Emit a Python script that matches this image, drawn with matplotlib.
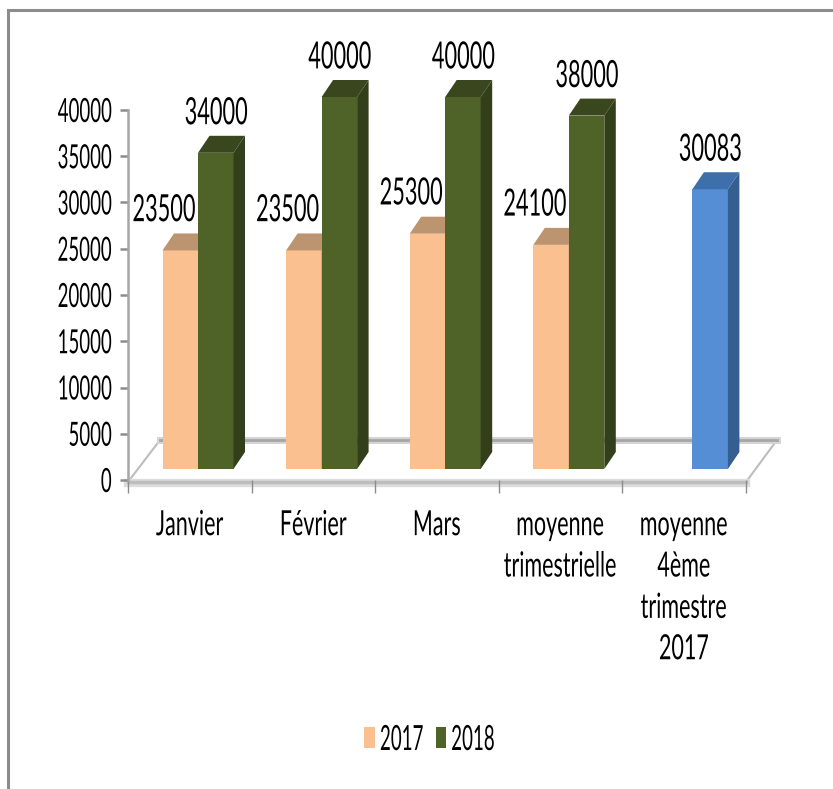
import numpy as np
import matplotlib
matplotlib.use('Agg')
import matplotlib.pyplot as plt
import matplotlib.patheffects as pe
from matplotlib.patches import Polygon
from matplotlib.transforms import Affine2D

plt.rcParams['font.family'] = ['Lato', 'DejaVu Sans']

categories = ['Janvier', 'Février', 'Mars', 'moyenne\ntrimestrielle', 'moyenne\n4ème\ntrimestre\n2017']
values_2017 = [23500, 23500, 25300, 24100, np.nan]
values_2018 = [34000, 40000, 40000, 38000, 30083]
y_ticks = [0, 5000, 10000, 15000, 20000, 25000, 30000, 35000, 40000]

W, H = 833, 789
fig = plt.figure(figsize=(W / 100, H / 100), dpi=100)


# the reference is squeezed sideways, no condensed font here so squeeze the glyph paths
class Squeeze(pe.AbstractPathEffect):
    def __init__(self, factor, anchor='center'):
        super().__init__()
        self.factor = factor
        self.anchor = anchor

    def draw_path(self, renderer, gc, tpath, affine, rgbFace=None):
        xs = affine.transform(tpath.vertices)[:, 0]
        if self.anchor == 'right':
            x0 = xs.max()
        elif self.anchor == 'left':
            x0 = xs.min()
        else:
            x0 = (xs.min() + xs.max()) / 2
        squeezed = affine + Affine2D().translate(-x0, 0).scale(self.factor, 1).translate(x0, 0)
        renderer.draw_path(gc, tpath, squeezed, rgbFace)


def box(left, top, right, bottom):
    return [left / W, 1 - bottom / H, (right - left) / W, (bottom - top) / H]


# decor layer in pixels: frame and chart floor
deco = fig.add_axes([0, 0, 1, 1], zorder=0)
deco.set_xlim(0, W)
deco.set_ylim(H, 0)
deco.axis('off')
deco.plot([8, 8, W], [H, 10, 10], color='#8c8c8c', lw=2.2, solid_joinstyle='miter')
deco.add_patch(Polygon([(128, 482), (160, 440), (777, 440), (746, 482)], closed=True,
                       facecolor='white', edgecolor='#bdbdbd', lw=1.5))
deco.plot([160, 777], [440, 440], color='#d4d4d4', lw=5)
deco.plot([160, 777], [440, 440], color='#a6a6a6', lw=2)
deco.plot([128, 746], [483, 483], color='#dcdcdc', lw=6)
deco.plot([128, 746], [482, 482], color='#bdbdbd', lw=2.5)

# axis layer
ax_axis = fig.add_axes(box(128, 110, 746, 480), zorder=1)
ax_axis.patch.set_alpha(0)
ax_axis.set_xlim(-0.5, 4.5)
ax_axis.set_ylim(0, 40000)
for side in ['top', 'right', 'bottom']:
    ax_axis.spines[side].set_visible(False)
ax_axis.spines['left'].set_color('#a6a6a6')
ax_axis.spines['left'].set_linewidth(1.8)
ax_axis.set_yticks(y_ticks)
ax_axis.tick_params(axis='y', length=6, width=1.8, color='#8c8c8c', labelsize=24, pad=5.5)
for lab in ax_axis.get_yticklabels():
    lab.set_path_effects([Squeeze(0.56, 'right')])
ax_axis.set_xticks(np.arange(-0.5, 5, 1))
ax_axis.set_xticklabels([])
ax_axis.tick_params(axis='x', which='major', length=9, width=1, color='#8c8c8c', pad=0)
ax_axis.set_xticks(range(len(categories)), minor=True)
ax_axis.set_xticklabels(categories, minor=True, fontsize=25, linespacing=1.36)
ax_axis.tick_params(axis='x', which='minor', length=0, pad=21)
for lab in ax_axis.get_xticklabels(minor=True):
    lab.set_path_effects([Squeeze(0.62)])

# bars layer, full figure, 0 value at y=469px
px_cat = 123.6
px_val = 0.0093
ax = fig.add_axes([0, 0, 1, 1], zorder=2)
ax.patch.set_alpha(0)
ax.set_xlim(-198 / px_cat, (W - 198) / px_cat)
ax.set_ylim((469 - H) / px_val, 469 / px_val)
ax.axis('off')

x = np.arange(len(categories))
bar_w = 35.5 / px_cat
dx = 11.5 / px_cat
dy = 17 / px_val


def bars_3d(xs, vals, front, side, top, label):
    bars = ax.bar(xs, vals, bar_w, align='edge', color=front, label=label)
    for i, (xi, v) in enumerate(zip(xs, vals)):
        if np.isnan(v):
            continue
        s = side[i] if isinstance(side, list) else side
        t = top[i] if isinstance(top, list) else top
        xr = xi + bar_w
        ax.add_patch(Polygon([(xr, 0), (xr + dx, dy), (xr + dx, v + dy), (xr, v)], facecolor=s, lw=0))
        ax.add_patch(Polygon([(xi, v), (xi + dx, v + dy), (xr + dx, v + dy), (xr, v)], facecolor=t, lw=0))
    return bars


b17 = bars_3d(x - bar_w, values_2017, '#fac090', '#a77f5e', '#bd9470', '2017')
colors_2018 = ['#4f6228'] * 4 + ['#558ed5']
sides_2018 = ['#333f1a'] * 4 + ['#355f91']
tops_2018 = ['#3a471e'] * 4 + ['#3d70ab']
b18 = bars_3d(x, values_2018, colors_2018, sides_2018, tops_2018, '2018')

for xi, v in zip(x, values_2017):
    if not np.isnan(v):
        t = ax.annotate(str(v), (xi - bar_w / 2, v), xytext=(-11.5, 29), textcoords='offset points',
                        ha='center', va='center', fontsize=27)
        t.set_path_effects([Squeeze(0.58)])
for xi, v in zip(x, values_2018):
    t = ax.annotate(str(v), (xi + bar_w / 2, v), xytext=(0.5, 28.5), textcoords='offset points',
                    ha='center', va='center', fontsize=27)
    t.set_path_effects([Squeeze(0.58)])

leg = ax.legend(handles=[b17, b18], labels=['2017', '2018'], loc='center',
                bbox_to_anchor=(448 / W, 1 - 740 / H), ncol=2, frameon=False, fontsize=25,
                handlelength=0.3, handleheight=0.55, handletextpad=0.15, columnspacing=-0.72)
for t in leg.get_texts():
    t.set_path_effects([Squeeze(0.54, 'left')])

fig.savefig('out.png', dpi=100)
